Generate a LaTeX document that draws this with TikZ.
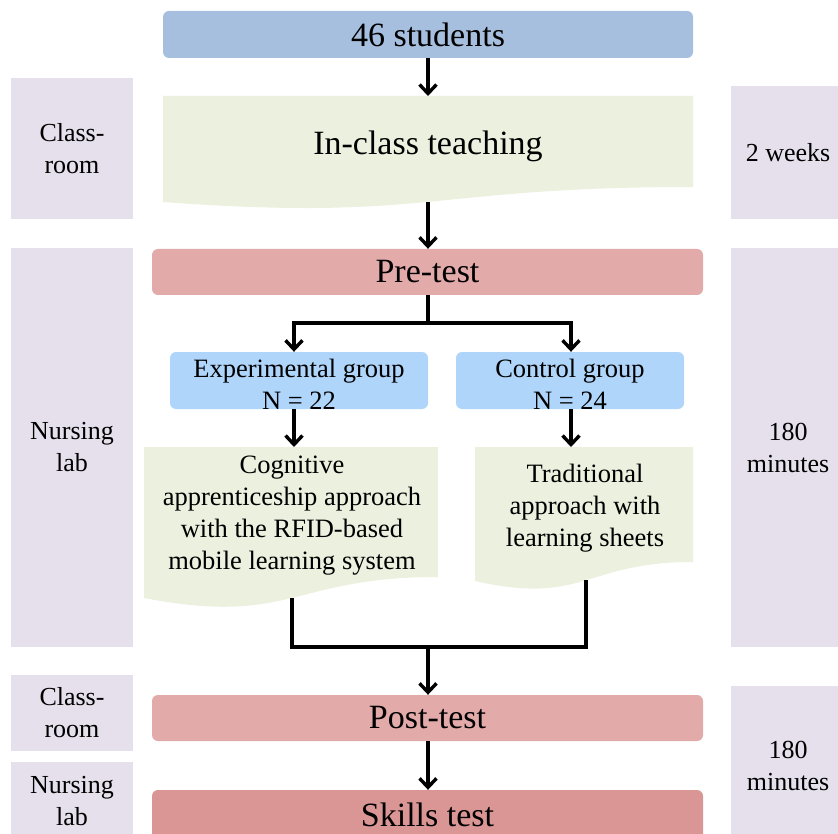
\documentclass[tikz,border=0pt]{standalone}
\usepackage{fontspec}
\setmainfont{Liberation Serif}
\usetikzlibrary{arrows.meta}
\definecolor{topcol}{HTML}{A7BFDE}
\definecolor{doccol}{HTML}{EBF0DF}
\definecolor{sidecol}{HTML}{E5E0EC}
\definecolor{testcol}{HTML}{E3AAAA}
\definecolor{skillcol}{HTML}{D99694}
\definecolor{grpcol}{HTML}{AFD5FA}
\tikzset{
  box/.style={rounded corners=6pt, inner sep=0pt, align=center},
  side/.style={fill=sidecol, inner sep=0pt, align=center, font=\fontsize{26}{32}\selectfont},
  big/.style={font=\fontsize{34}{40}\selectfont},
  med/.style={font=\fontsize{26.5}{32}\selectfont, align=center},
  conn/.style={line width=3.4pt},
  arr/.style={conn, -{Straight Barb[length=9pt,width=17pt]}},
}
\begin{document}
\begin{tikzpicture}[x=1pt,y=-1pt]
\useasboundingbox (0,0) rectangle (838,834);
% side boxes
\node[side, minimum width=122pt, minimum height=141pt] (L1) at (72,148.5) {Class-\\room};
\node[side, minimum width=122pt, minimum height=399pt] (L2) at (72,447.5) {Nursing\\lab};
\node[side, minimum width=122pt, minimum height=76pt] (L3) at (72,713) {Class-\\room};
\node[side, minimum width=122pt, minimum height=78pt] (L4) at (72,801) {Nursing\\lab};
\node[side, minimum width=114pt, minimum height=133pt] (R1) at (788,152.5) {2 weeks};
\node[side, minimum width=114pt, minimum height=399pt] (R2) at (788,447.5) {180\\minutes};
\node[side, minimum width=114pt, minimum height=159pt] (R3) at (788,765.5) {180\\minutes};
% main boxes
\node[box, big, fill=topcol, minimum width=530pt, minimum height=47pt] (top) at (428,34.5) {46 students};
\fill[doccol] (163,96) -- (693,96) -- (693,187) .. controls (428,187) and (428,221.6) .. (163,202) -- cycle;
\coordinate (d1top) at (428,96);
\coordinate (d1bot) at (428,202);
\node[big] (teach) at (428,146) {In-class teaching};
\node[box, big, fill=testcol, minimum width=551pt, minimum height=46pt] (pre) at (427.5,272) {Pre-test};
\node[box, med, fill=grpcol, minimum width=258pt, minimum height=57pt] (exp) at (299,380.5) {};
\node[med] (expt) at (299,384) {Experimental group\\N = 22};
\node[box, med, fill=grpcol, minimum width=228pt, minimum height=57pt] (ctrl) at (570,380.5) {};
\node[med] (ctrlt) at (570,384) {Control group\\N = 24};
\fill[doccol] (144,447) -- (438,447) -- (438,577) .. controls (291,577) and (291,626.3) .. (144,598) -- cycle;
\coordinate (d2top) at (294,447);
\coordinate (d2bot) at (292,598);
\node[med] (cog) at (292,516) {Cognitive\\apprenticeship approach\\with the RFID-based\\mobile learning system};
\fill[doccol] (475,447) -- (693,447) -- (693,562) .. controls (584,562) and (584,605.7) .. (475,581) -- cycle;
\coordinate (d3top) at (571,447);
\coordinate (d3bot) at (586,580);
\node[med] (trad) at (585,508) {Traditional\\approach with\\learning sheets};
\node[box, big, fill=testcol, minimum width=551pt, minimum height=46pt] (post) at (427.5,718) {Post-test};
\node[box, big, fill=skillcol, minimum width=551pt, minimum height=50pt] (skills) at (427.5,815) {Skills test};
% connectors
\coordinate (split) at (428,323);
\coordinate (join) at (428,647);
\draw[arr] (top.south -| d1top) -- (d1top);
\draw[arr] (d1bot) -- (pre.north -| d1bot);
\draw[conn] (pre.south -| split) -- (split);
\draw[arr] (split) -| ([xshift=-5pt]exp.north);
\draw[arr] (split) -| ([xshift=1pt]ctrl.north);
\draw[arr] ([xshift=-5pt]exp.south) -- (d2top);
\draw[arr] ([xshift=1pt]ctrl.south) -- (d3top);
\draw[conn] (d2bot) |- (join) -| (d3bot);
\draw[arr] (join) -- (post.north -| join);
\draw[arr] (post.south -| join) -- (skills.north -| join);
\end{tikzpicture}
\end{document}
